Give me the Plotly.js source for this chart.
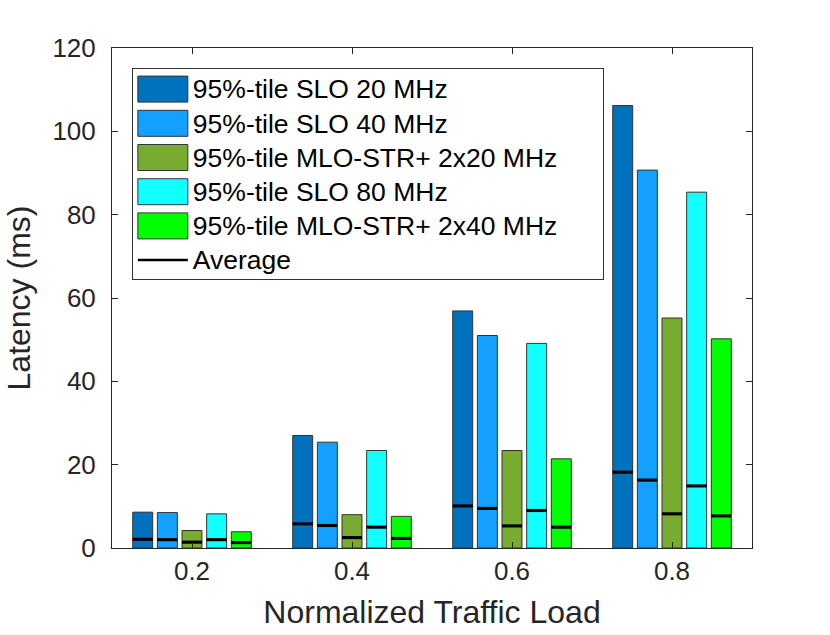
<!DOCTYPE html>
<html>
<head>
<meta charset="utf-8">
<script src="https://cdn.plot.ly/plotly-3.0.1.min.js"></script>
<style>
  html, body { margin: 0; padding: 0; background: #fff; }
  #chart { width: 830px; height: 635px; }
</style>
</head>
<body>
<div id="chart"></div>
<script>
// traffic load groups
var loads = [0.2, 0.4, 0.6, 0.8];

var seriesNames = ['95%-tile SLO 20 MHz', '95%-tile SLO 40 MHz', '95%-tile MLO-STR+ 2x20 MHz',
                   '95%-tile SLO 80 MHz', '95%-tile MLO-STR+ 2x40 MHz'];
var seriesColors = ['#0072BD', '#14A0FF', '#77AC30', '#10FFFF', '#00FF00'];

// 95th percentile latency (ms)
var p95Slo20 = [8.6, 27.0, 56.9, 106.2];
var p95Slo40 = [8.5, 25.4, 51.0, 90.7];
var p95Mlo2x20 = [4.2, 8.0, 23.4, 55.2];
var p95Slo80 = [8.2, 23.4, 49.1, 85.4];
var p95Mlo2x40 = [3.9, 7.6, 21.4, 50.2];

// average latency (ms)
var avgSlo20 = [2.1, 5.8, 10.1, 18.2];
var avgSlo40 = [2.0, 5.4, 9.5, 16.3];
var avgMlo2x20 = [1.4, 2.5, 5.3, 8.2];
var avgSlo80 = [2.0, 5.0, 9.0, 14.9];
var avgMlo2x40 = [1.3, 2.3, 5.0, 7.7];

var p95 = [p95Slo20, p95Slo40, p95Mlo2x20, p95Slo80, p95Mlo2x40];
var avgs = [avgSlo20, avgSlo40, avgMlo2x20, avgSlo80, avgMlo2x40];

var fontFam = '"Liberation Sans", Arial, Helvetica, sans-serif';
var textCol = '#262626';
var avgThick = 0.75;  // thickness of the average marker, in ms

var traces = [];
for (var i = 0; i < p95.length; i++) {
  traces.push({
    type: 'bar',
    x: loads,
    y: p95[i],
    name: seriesNames[i],
    offsetgroup: 'g' + i,
    marker: {color: seriesColors[i], line: {color: '#333333', width: 1}},
    hoverinfo: 'y+name'
  });
}
// average marks drawn as thin bars in the same slot as their series
for (var i = 0; i < avgs.length; i++) {
  traces.push({
    type: 'bar',
    x: loads,
    y: avgs[i].map(function () { return avgThick; }),
    base: avgs[i].map(function (v) { return v - avgThick / 2; }),
    offsetgroup: 'g' + i,
    marker: {color: '#000000', line: {width: 0}},
    showlegend: false,
    customdata: avgs[i],
    hovertemplate: 'Average: %{customdata}<extra></extra>'
  });
}
// legend entry for the averages
traces.push({
  type: 'scatter',
  mode: 'lines',
  x: [null],
  y: [null],
  name: 'Average',
  line: {color: '#000000', width: 2.5}
});

var layout = {
  width: 830,
  height: 635,
  margin: {l: 112, r: 78, t: 48, b: 87},
  paper_bgcolor: '#ffffff',
  plot_bgcolor: '#ffffff',
  font: {family: fontFam, color: textCol, size: 26},
  barmode: 'group',
  bargap: 0.23,
  bargroupgap: 0.19,
  showlegend: true,
  legend: {
    x: 0.031, y: 0.96, xanchor: 'left', yanchor: 'top',
    bgcolor: '#ffffff',
    bordercolor: '#333333',
    borderwidth: 1,
    font: {family: fontFam, color: '#000000', size: 24},
    itemwidth: 50,
    traceorder: 'normal'
  },
  xaxis: {
    range: [0.1, 0.9],
    tickvals: loads,
    ticktext: loads.map(function (v) { return v.toFixed(1); }),
    ticks: 'inside',
    ticklen: 6,
    tickcolor: '#262626',
    showline: true,
    linecolor: '#262626',
    linewidth: 1,
    mirror: 'ticks',
    showgrid: false,
    zeroline: false,
    tickfont: {size: 26},
    title: {text: 'Normalized Traffic Load', font: {size: 32}, standoff: 15}
  },
  yaxis: {
    range: [0, 120],
    dtick: 20,
    ticks: 'inside',
    ticklen: 6,
    tickcolor: '#262626',
    ticklabelstandoff: 10,
    showline: true,
    linecolor: '#262626',
    linewidth: 1,
    mirror: 'ticks',
    showgrid: false,
    zeroline: false,
    tickfont: {size: 26},
    title: {text: 'Latency (ms)', font: {size: 32}, standoff: 12}
  }
};

Plotly.newPlot('chart', traces, layout, {displayModeBar: false, staticPlot: true}).then(function (gd) {
  // widen the legend swatches and enlarge the legend text like the original figure
  var items = gd.querySelectorAll('.legend g.traces');
  items.forEach(function (g) {
    g.querySelectorAll('.legendpoints path').forEach(function (p) {
      if (p.classList.contains('js-line')) {
        p.setAttribute('d', 'M8,0h50');
      } else if (!p.classList.contains('js-fill')) {
        p.setAttribute('d', 'M25,13H-25V-13H25Z');
      }
    });
    var t = g.querySelector('text.legendtext');
    if (t) t.style.fontSize = '26.5px';
  });
  // the box in the original is wider than the text needs
  var bg = gd.querySelector('.legend rect.bg');
  if (bg) { bg.setAttribute('width', 471); bg.setAttribute('height', 211); }
  var sb = gd.querySelector('.legend .scrollbox');
  if (sb) {
    sb.removeAttribute('clip-path');
    sb.setAttribute('transform', 'translate(0,-2)');
  }
});
</script>
</body>
</html>
